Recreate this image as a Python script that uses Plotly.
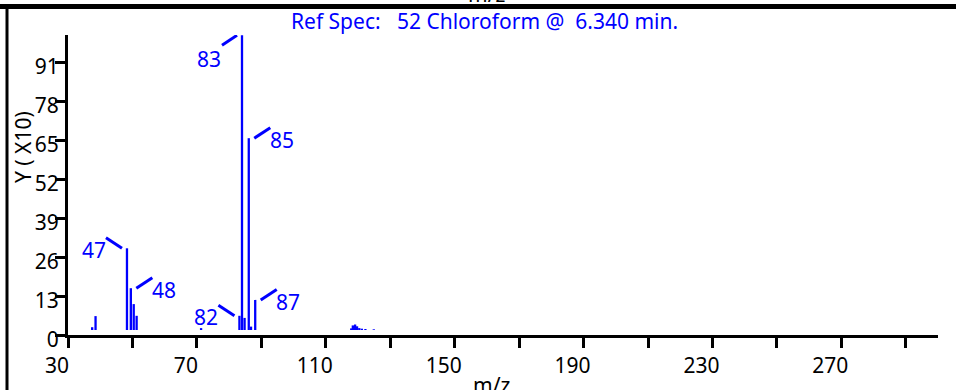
import plotly.graph_objects as go

# ---------------- data ----------------
peak_mz = [37.5, 38.55, 48.3, 49.5, 50.4, 51.3, 71.3,
           83.2, 84.0, 84.8, 86.1, 86.8, 88.1,
           117.9, 118.4, 119.1, 119.7, 120.4, 121.2, 122.3, 124.9]
peak_int = [2.6, 6.3, 28.9, 15.6, 10.3, 6.4, 2.3,
            6.4, 99.9, 5.7, 65.6, 2.8, 11.7,
            2.2, 3.2, 3.5, 2.9, 2.3, 2.1, 2.0, 1.9]
baseline = 1.67

label_text = ["47", "48", "82", "83", "85", "87"]
label_index = [2, 3, 7, 8, 10, 12]
label_side = ["left", "right", "left", "below", "right", "right"]

x_tickvals = [30, 50, 70, 90, 110, 130, 150, 170, 190, 210, 230, 250, 270, 290]
x_ticktext = ["30", "", "70", "", "110", "", "150", "", "190", "", "230", "", "270", ""]
y_tickvals = [0, 13, 26, 39, 52, 65, 78, 91]
y_ticktext = ["0", "13", "26", "39", "52", "65", "78", "91"]

title_text = "Ref Spec:\u00a0\u00a0 52 Chloroform @\u00a0 6.340 min."
x_title = "m/z"
y_title = "Y ( X10)"

# ---------------- geometry / style ----------------
W, H = 956, 390
L, R, T, B = 68, 18, 35, 55
X0, X1 = 30, 300
Y0, Y1 = 0, 100
pw, ph = W - L - R, H - T - B
pxu = pw / (X1 - X0)
pyu = ph / (Y1 - Y0)
BLUE = "#0000ff"
FONT = "Noto Sans"
FS = 21


def paper(px, py):
    return (px - L) / pw, (H - B - py) / ph


# leader line (screen px offsets, dy positive downward) and text centre
OFFS = {
    "right": ((5.5, 0), (21.5, -10.5), (33, 2)),
    "left": ((-21, -10.5), (-5, 0), (-33, 1.5)),
    "below": ((-20, 10), (-5, 0), (-33, 23.5)),
}

fig = go.Figure()

xs, ys = [], []
for m, v in zip(peak_mz, peak_int):
    xs += [m, m, None]
    ys += [baseline, v, None]
fig.add_trace(go.Scatter(x=xs, y=ys, mode="lines",
                         line=dict(color=BLUE, width=2.3),
                         hoverinfo="skip", showlegend=False))

shapes = []
annotations = []
for txt, idx, side in zip(label_text, label_index, label_side):
    bx, by = peak_mz[idx], peak_int[idx]
    (a0, b0), (a1, b1), (tx, ty) = OFFS[side]
    shapes.append(dict(type="line", xref="x", yref="y",
                       x0=bx + a0 / pxu, y0=by - b0 / pyu,
                       x1=bx + a1 / pxu, y1=by - b1 / pyu,
                       line=dict(color=BLUE, width=3)))
    annotations.append(dict(x=bx, y=by, xref="x", yref="y", text=txt,
                            showarrow=False, xshift=tx, yshift=-ty,
                            xanchor="center", yanchor="middle",
                            font=dict(family=FONT, size=FS, color=BLUE)))

# title
tx, ty = paper(289, 21)
annotations.append(dict(x=tx, y=ty, xref="paper", yref="paper", text=title_text,
                        showarrow=False, xanchor="left", yanchor="middle",
                        font=dict(family=FONT, size=FS, color=BLUE)))
# y title
tx, ty = paper(23, 147)
annotations.append(dict(x=tx, y=ty, xref="paper", yref="paper", text=y_title,
                        showarrow=False, textangle=-90, xanchor="center", yanchor="middle",
                        font=dict(family=FONT, size=FS, color="black")))
# x title (bottom)
tx, ty = paper(491, 369)
annotations.append(dict(x=tx, y=ty, xref="paper", yref="paper", text=x_title,
                        showarrow=False, xanchor="center", yanchor="top",
                        font=dict(family=FONT, size=FS, color="black")))
# x title of panel above (cut off at top)
tx, ty = paper(486, 10)
annotations.append(dict(x=tx, y=ty, xref="paper", yref="paper", text=x_title,
                        showarrow=False, xanchor="center", yanchor="bottom",
                        font=dict(family=FONT, size=FS, color="black")))

# frame lines
x0p, y0p = paper(0, 6.5)
x1p, _ = paper(W, 6.5)
shapes.append(dict(type="line", xref="paper", yref="paper", x0=x0p, x1=x1p, y0=y0p, y1=y0p,
                   line=dict(color="black", width=5)))
lx, ly0 = paper(7, 4)
_, ly1 = paper(7, H + 5)
shapes.append(dict(type="line", xref="paper", yref="paper", x0=lx, x1=lx, y0=ly0, y1=ly1,
                   line=dict(color="black", width=3)))

fig.update_layout(
    width=W, height=H,
    margin=dict(l=L, r=R, t=T, b=B, pad=0),
    paper_bgcolor="white", plot_bgcolor="white",
    shapes=shapes, annotations=annotations,
    xaxis=dict(range=[X0, X1], showline=True, linecolor="black", linewidth=3,
               ticks="outside", ticklen=10, tickwidth=2.5, tickcolor="black",
               tickvals=x_tickvals, ticktext=x_ticktext,
               tickfont=dict(family=FONT, size=FS, color="black"),
               ticklabelshift=-11,
               showgrid=False, zeroline=False, fixedrange=True),
    yaxis=dict(range=[Y0, Y1], showline=True, linecolor="black", linewidth=3,
               ticks="outside", ticklen=10, tickwidth=2.5, tickcolor="black",
               tickvals=y_tickvals, ticktext=y_ticktext,
               tickfont=dict(family=FONT, size=FS, color="black"),
               ticklabelshift=5, ticklabelstandoff=-8,
               showgrid=False, zeroline=False, fixedrange=True),
)

fig.write_html("out.html", config={"displayModeBar": False},
               post_script="document.body.style.margin='0';document.body.style.overflow='hidden';")
